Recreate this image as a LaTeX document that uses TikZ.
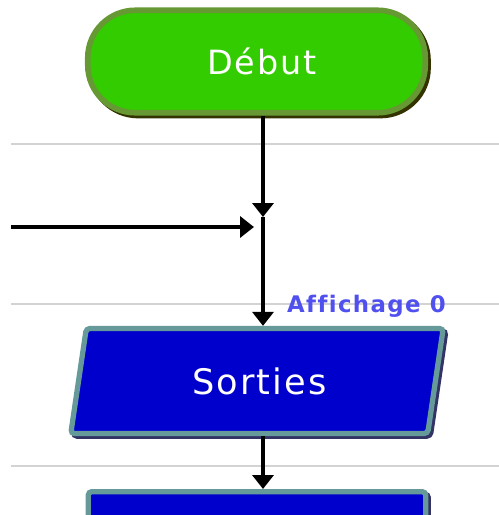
\documentclass[tikz,border=0pt]{standalone}
\usepackage{fontspec}
\usepackage{tikz}
\usetikzlibrary{positioning,arrows.meta,calc,shapes.geometric}
\newfontfamily\pixfont[LetterSpace=6, Ligatures=CommonOff]{DejaVu Sans}
\definecolor{debutvert}{HTML}{33CC00}
\definecolor{debutclair}{HTML}{669933}
\definecolor{debutsombre}{HTML}{333300}
\definecolor{sortiebleu}{HTML}{0000CC}
\definecolor{sortieclair}{HTML}{669999}
\definecolor{sortiesombre}{HTML}{333366}
\definecolor{grille}{HTML}{D3D3D3}
\definecolor{etiquette}{HTML}{5050EE}

\begin{document}
\begin{tikzpicture}[x=0.02cm, y=-0.02cm,
    fleche/.style={line width=2pt, -{Triangle[width=0.42cm, length=0.28cm]}},
    trait/.style={grille, line width=1.6pt},
    debutbox/.style={rectangle, rounded corners=0.95cm, fill=debutvert, draw=debutclair, line width=3.2pt,
      minimum width=6.75cm, minimum height=2.05cm, text=white, font=\pixfont\fontsize{19}{19}\selectfont,
      preaction={draw=debutsombre, line width=3.2pt, transform canvas={shift={(1.6pt,-1.6pt)}}}},
    sortiebox/.style={fill=sortiebleu, draw=sortieclair, line width=3pt, text=white,
      font=\pixfont\fontsize{20}{20}\selectfont,
      preaction={draw=sortiesombre, line width=3pt, transform canvas={shift={(1.5pt,-1.5pt)}}}}]
        \clip (0,0) rectangle (499,515);
        \foreach \y in {144,304,466} \draw[trait] (11,\y) -- (499,\y);
        \node[debutbox] (debut) at (256.5,61.5) {\hspace{0.22cm}Début};
        \node[sortiebox, trapezium, trapezium left angle=80, trapezium right angle=100, trapezium stretches=true,
          rounded corners=2pt, minimum width=7.5cm, minimum height=2.1cm] (sorties) at (257,381) {\hspace{0.1cm}Sorties};
        \node[sortiebox, rectangle, rounded corners=2pt, anchor=north, minimum width=6.75cm, minimum height=1.6cm]
          (suite) at (257,489) {};
        \coordinate (join) at (263,227);
        \coordinate (arrivee) at (263,217);
        \coordinate (gauche) at (11,227);
        \coordinate (entree) at (254,227);
        \draw[fleche] (debut.south -| join) -- (arrivee);
        \draw[fleche] (gauche) -- (entree);
        \draw[fleche] (arrivee) -- (sorties.north -| join);
        \draw[fleche] (sorties.south -| join) -- (suite.north -| join);
        \node[anchor=base west, etiquette, font=\pixfont\bfseries\fontsize{13}{13}\selectfont] (affichage) at (281,312) {Affichage 0};
      \end{tikzpicture}
\end{document}
